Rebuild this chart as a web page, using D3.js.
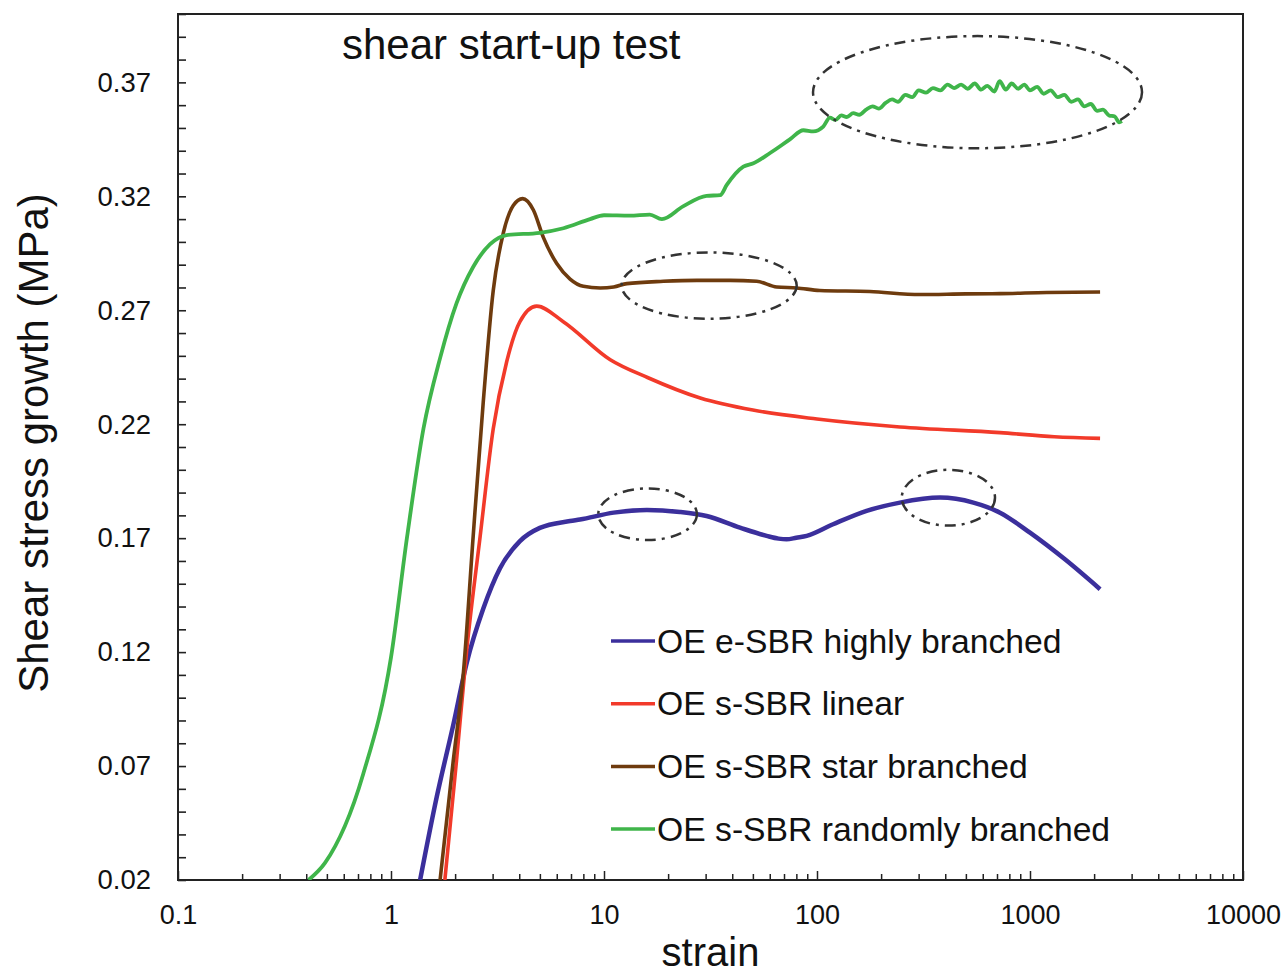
<!DOCTYPE html>
<html>
<head>
<meta charset="utf-8">
<script src="https://cdn.jsdelivr.net/npm/d3@7"></script>
<style>
  body { margin: 0; background: #fff; }
  svg { display: block; font-family: "Liberation Sans", Arial, sans-serif; }
</style>
</head>
<body>
<svg id="chart"></svg>
<script>
// series: [strain, shear stress (MPa)]
var highlyBranched = [
    [1.37, 0.02], [1.64, 0.0565], [1.96, 0.088], [2.27, 0.1155], [2.71, 0.139],
    [3.25, 0.1568], [4.03, 0.1687], [5.0, 0.1745], [6.93, 0.1775], [7.71, 0.1782],
    [11.1, 0.1812], [15.9, 0.1824], [22.7, 0.1815], [30.3, 0.1797], [43.5, 0.1746],
    [58, 0.171], [66, 0.1698], [72, 0.1695], [80, 0.1702], [89.5, 0.171], [119, 0.1761],
    [171, 0.182], [245, 0.1856], [378, 0.1878], [542, 0.1856], [723, 0.1812],
    [1000, 0.1724], [1459, 0.1607], [2133, 0.1476]
];

var linear = [
    [1.79, 0.02], [2.03, 0.0723], [2.27, 0.1214], [2.62, 0.1706], [3.02, 0.218],
    [3.49, 0.2473], [4.03, 0.265], [4.83, 0.2718], [6.44, 0.265], [10.7, 0.2483],
    [16, 0.2405], [28.3, 0.2315], [50, 0.2262], [100, 0.2223], [245, 0.2188],
    [723, 0.2163], [1300, 0.2145], [2133, 0.2138]
];

var starBranched = [
    [1.70, 0.02], [1.96, 0.0723], [2.19, 0.1115], [2.43, 0.1706], [2.71, 0.2296],
    [3.02, 0.2787], [3.37, 0.304], [3.75, 0.316], [4.15, 0.319], [4.66, 0.314],
    [5.19, 0.302], [6.0, 0.2905], [6.93, 0.2837], [8.0, 0.2805], [9.6, 0.2798],
    [11.1, 0.2802], [12.8, 0.2817], [19.0, 0.2827], [27.3, 0.2831], [39.1, 0.2831],
    [52.1, 0.2827], [64.7, 0.2802], [80.3, 0.2798], [103, 0.2787], [177, 0.2782],
    [305, 0.2769], [500, 0.2772], [723, 0.2773], [1200, 0.2778], [2133, 0.278]
];

var randomlyBranched = [
    [0.41, 0.02], [0.49, 0.0275], [0.74, 0.0664], [1.0, 0.1177], [1.19, 0.1706],
    [1.42, 0.218], [1.70, 0.249], [2.03, 0.273], [2.43, 0.289], [2.92, 0.299],
    [3.49, 0.303], [5.0, 0.304], [6.45, 0.306], [8.6, 0.310], [10.0, 0.3117],
    [13.2, 0.3115], [16.4, 0.312], [18.7, 0.310], [23.5, 0.3156], [30.3, 0.3202],
    [35.1, 0.3205], [37.7, 0.325], [45.1, 0.333], [50.3, 0.3345], [60.2, 0.339],
    [74.6, 0.345], [86.3, 0.349], [96, 0.3485], [107, 0.3506], [115, 0.3545],
    [122, 0.3535], [130, 0.3555], [138, 0.3548], [148, 0.3565], [158, 0.3558],
    [170, 0.358], [182, 0.3595], [195, 0.3585], [210, 0.361], [225, 0.3625],
    [240, 0.3615], [260, 0.3645], [280, 0.3635], [300, 0.3665], [325, 0.3655],
    [350, 0.3675], [380, 0.3665], [410, 0.369], [440, 0.3675], [475, 0.369],
    [510, 0.3672], [550, 0.3695], [590, 0.3668], [630, 0.3685], [680, 0.366],
    [720, 0.3705], [770, 0.3668], [820, 0.3695], [880, 0.3672], [940, 0.369],
    [1000, 0.3665], [1080, 0.368], [1160, 0.365], [1250, 0.3665], [1350, 0.3635],
    [1450, 0.3645], [1560, 0.3615], [1680, 0.3625], [1800, 0.3595], [1930, 0.3605],
    [2070, 0.3575], [2200, 0.358], [2350, 0.3555], [2500, 0.355], [2620, 0.3525],
    [2700, 0.353]
];

var seriesNames = [
    "OE e-SBR highly branched",
    "OE s-SBR linear",
    "OE s-SBR star branched",
    "OE s-SBR randomly branched"
];
var seriesColors = ["#3b2f9c", "#f23a2a", "#6e3b0e", "#3fb54a"];

// highlight ellipses: [strain min, strain max, stress min, stress max]
var ellipses = [
    [95.8, 3357, 0.3411, 0.3903],
    [12.1, 80.3, 0.2663, 0.2954],
    [9.4, 27.3, 0.1692, 0.1918],
    [250, 685, 0.1755, 0.2000]
];

var xTickValues = [0.1, 1, 10, 100, 1000, 10000];
var xTickLabels = ["0.1", "1", "10", "100", "1000", "10000"];
var yTickValues = [0.02, 0.07, 0.12, 0.17, 0.22, 0.27, 0.32, 0.37];

var titleText = "shear start-up test";
var xTitle = "strain";
var yTitle = "Shear stress growth (MPa)";

render();

function render() {
    var width = 1065;
    var height = 866;
    var margin = { "left": 178, "right": 43, "top": 14, "bottom": 99 };

    var svg = d3.select("#chart")
        .attr("width", width + margin.left + margin.right)
        .attr("height", height + margin.top + margin.bottom);

    var g = svg.append("g")
        .attr("transform", "translate(" + margin.left + "," + margin.top + ")");

    var x = d3.scaleLog().domain([0.1, 10000]).range([0, width]);
    var y = d3.scaleLinear().domain([0.02, 0.40]).range([height, 0]);

    // minor ticks
    var xMinor = [];
    for (var dec = 0.1; dec < 10000; dec *= 10) {
        for (var k = 2; k <= 9; k++) xMinor.push(+(dec * k).toPrecision(3));
    }
    var yMinor = d3.range(0.02, 0.401, 0.01).map(d => +d.toFixed(2));

    var axisColor = "#222";

    g.append("g")
        .attr("transform", "translate(0," + height + ")")
        .call(d3.axisBottom(x).tickValues(xMinor).tickSize(-6).tickFormat(""))
        .call(a => a.select(".domain").remove())
        .selectAll("line").attr("stroke", axisColor).attr("stroke-width", 1.5);

    g.append("g")
        .attr("transform", "translate(0," + height + ")")
        .call(d3.axisBottom(x).tickValues(xTickValues).tickSize(-9).tickPadding(25)
            .tickFormat((d, i) => xTickLabels[i]))
        .call(a => a.select(".domain").remove())
        .call(a => a.selectAll("line").attr("stroke", axisColor).attr("stroke-width", 1.5))
        .call(a => a.selectAll("text").attr("font-size", 27).attr("fill", "#111")
            .attr("font-family", "Liberation Sans, Arial, sans-serif"));

    g.append("g")
        .call(d3.axisLeft(y).tickValues(yMinor).tickSize(-8).tickFormat(""))
        .call(a => a.select(".domain").remove())
        .selectAll("line").attr("stroke", axisColor).attr("stroke-width", 1.6);

    g.append("g")
        .call(d3.axisLeft(y).tickValues(yTickValues).tickSize(0).tickPadding(27)
            .tickFormat(d3.format(".2f")))
        .call(a => a.select(".domain").remove())
        .call(a => a.selectAll("text").attr("font-size", 27.5).attr("fill", "#111")
            .attr("font-family", "Liberation Sans, Arial, sans-serif"));

    // frame
    g.append("rect")
        .attr("width", width)
        .attr("height", height)
        .attr("fill", "none")
        .attr("stroke", axisColor)
        .attr("stroke-width", 2);

    g.append("clipPath").attr("id", "plot-clip")
        .append("rect").attr("width", width).attr("height", height);

    var line = d3.line()
        .x(d => x(d[0]))
        .y(d => y(d[1]))
        .curve(d3.curveMonotoneX);

    var allSeries = [highlyBranched, linear, starBranched, randomlyBranched];
    var widths = [4.5, 3.6, 3.6, 3.8];

    g.append("g")
        .attr("clip-path", "url(#plot-clip)")
        .selectAll("path")
        .data(allSeries)
        .enter()
        .append("path")
        .attr("d", d => line(d))
        .attr("fill", "none")
        .attr("stroke", (d, i) => seriesColors[i])
        .attr("stroke-width", (d, i) => widths[i])
        .attr("stroke-linejoin", "round");

    // dash-dot ellipses
    g.append("g")
        .selectAll("ellipse")
        .data(ellipses)
        .enter()
        .append("ellipse")
        .attr("cx", d => (x(d[0]) + x(d[1])) / 2)
        .attr("cy", d => (y(d[2]) + y(d[3])) / 2)
        .attr("rx", d => (x(d[1]) - x(d[0])) / 2)
        .attr("ry", d => (y(d[2]) - y(d[3])) / 2)
        .attr("fill", "none")
        .attr("stroke", "#333")
        .attr("stroke-width", 2.5)
        .attr("stroke-dasharray", "11,6,3,6");

    // legend
    var legendX = 433;
    var legendTop = 627;
    var legendStep = 62.7;
    var legend = g.append("g")
        .selectAll("g")
        .data(seriesNames)
        .enter()
        .append("g")
        .attr("transform", (d, i) => "translate(" + legendX + "," + (legendTop + i * legendStep) + ")");
    legend.append("line")
        .attr("x1", 0).attr("x2", 44)
        .attr("stroke", (d, i) => seriesColors[i])
        .attr("stroke-width", 3.5);
    legend.append("text")
        .attr("x", 46)
        .attr("dy", "0.35em")
        .attr("font-size", 33.7)
        .attr("fill", "#111")
        .text(d => d);

    // titles
    g.append("text")
        .attr("x", 164)
        .attr("y", 45)
        .attr("font-size", 42)
        .attr("fill", "#111")
        .text(titleText);

    svg.append("text")
        .attr("x", margin.left + width / 2)
        .attr("y", 966)
        .attr("text-anchor", "middle")
        .attr("font-size", 40)
        .attr("fill", "#111")
        .text(xTitle);

    svg.append("text")
        .attr("transform", "translate(48," + (margin.top + height / 2 - 4) + ") rotate(-90)")
        .attr("text-anchor", "middle")
        .attr("font-size", 42)
        .attr("fill", "#111")
        .text(yTitle);
}
</script>
</body>
</html>
